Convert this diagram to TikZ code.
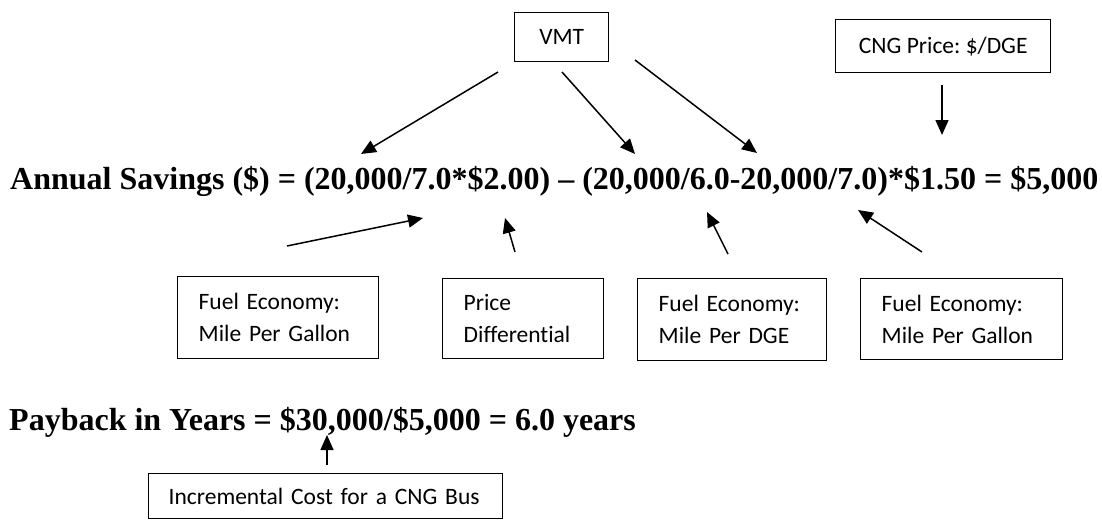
\documentclass[tikz,border=0pt]{standalone}
\usepackage{fontspec}
\setmainfont{Liberation Serif}
\newfontfamily\boxfont[Ligatures={NoCommon}]{Carlito}
\usetikzlibrary{arrows.meta}
\frenchspacing

\tikzset{
  infobox/.style={draw, line width=1.4pt, inner sep=0pt, font=\boxfont\fontsize{23.5}{32}\selectfont},
  twoline/.style={inner xsep=21pt, align=left},
  eqtext/.style={inner sep=0pt, font=\bfseries\fontsize{32}{38}\selectfont},
  pointer/.style={line width=1.5pt, -{Triangle[length=15pt,width=13pt]}}
}

\begin{document}
\begin{tikzpicture}[x=1pt,y=-1pt]
\useasboundingbox (0,0) rectangle (1102,520);

% equations
\node[eqtext, anchor=base west] (savings) at (10,189) {Annual Savings (\$) = (20,000/7.0*\$2.00) -- (20,000/6.0-20,000/7.0)*\$1.50 = \$5,000};
\node[eqtext, anchor=base west] (payback) at (9,430) {Payback in Years = \$30,000/\$5,000 = 6.0 years};

% boxes
\node[infobox, anchor=north west, minimum width=94pt, minimum height=49pt] (vmt) at (514,12) {VMT};
\node[infobox, anchor=north west, minimum width=215pt, minimum height=53pt] (cng) at (835,19) {CNG Price: \$/DGE};
\node[infobox, twoline, anchor=north west, text width=159pt, minimum height=82pt] (mpg) at (177,276) {Fuel Economy:\\Mile Per Gallon};
\node[infobox, twoline, anchor=north west, text width=119pt, minimum height=80pt] (diff) at (442,278) {Price\\Differential};
\node[infobox, twoline, anchor=north west, text width=147pt, minimum height=82pt] (mpdge) at (637,278) {Fuel Economy:\\Mile Per DGE};
\node[infobox, twoline, anchor=north west, text width=160pt, minimum height=81pt] (mpg2) at (860,278) {Fuel Economy:\\Mile Per Gallon};
\node[infobox, twoline, anchor=north west, inner xsep=20pt, text width=314pt, minimum height=45pt] (cost) at (148,473) {Incremental Cost for a CNG Bus};

% arrow ends
\coordinate (vmtA) at (498,72);   \coordinate (tipA) at (361,154);
\coordinate (vmtB) at (562,72);   \coordinate (tipB) at (635,154);
\coordinate (vmtC) at (635,60);   \coordinate (tipC) at (757,153);
\coordinate (cngA) at (942,85);   \coordinate (tipD) at (942,135);
\coordinate (mpgA) at (287,246);  \coordinate (tipE) at (423,218);
\coordinate (diffA) at (515,252); \coordinate (tipF) at (505,218);
\coordinate (dgeA) at (728,254);  \coordinate (tipG) at (707,212);
\coordinate (mpgB) at (922,252);  \coordinate (tipH) at (858,210);
\coordinate (costA) at (327,465); \coordinate (tipI) at (327,435);

\foreach \from/\to in {vmtA/tipA,vmtB/tipB,vmtC/tipC,cngA/tipD,mpgA/tipE,diffA/tipF,dgeA/tipG,mpgB/tipH,costA/tipI}
  \draw[pointer] (\from) -- (\to);
\end{tikzpicture}
\end{document}
